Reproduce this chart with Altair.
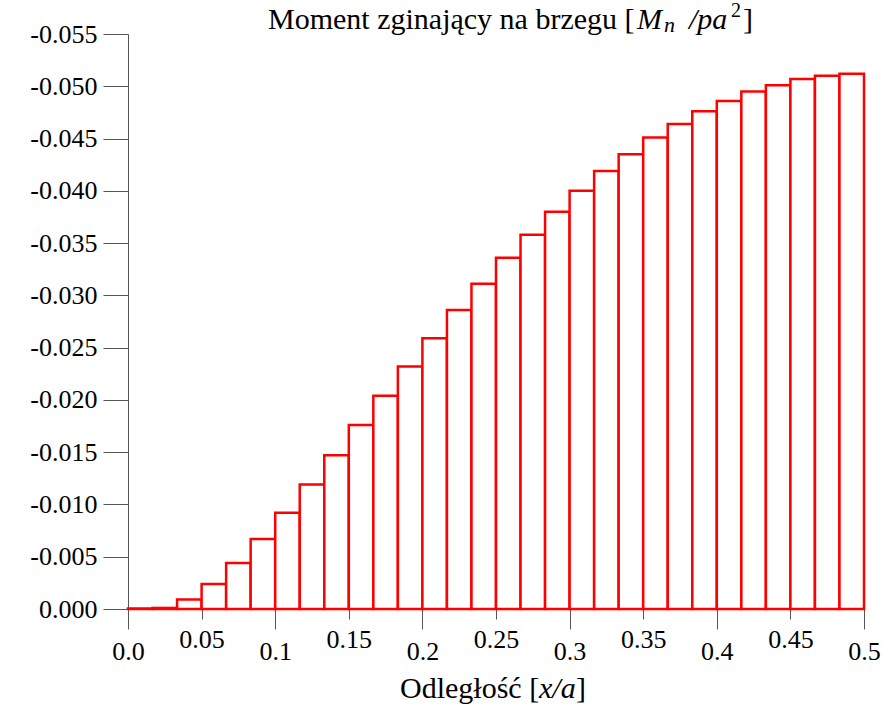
import altair as alt
import pandas as pd

SERIF = "Liberation Serif"

# Bending moment on the edge, one value per strip of width 1/60 (x/a from 0 to 0.5)
moment = [-0.00005, -0.0001, -0.0009, -0.0024, -0.0044, -0.0067, -0.0092, -0.0119,
          -0.0147, -0.0176, -0.0204, -0.0232, -0.0259, -0.0286, -0.0311, -0.0336,
          -0.0358, -0.0380, -0.0400, -0.0419, -0.0435, -0.0451, -0.0464, -0.0476,
          -0.0486, -0.0495, -0.0501, -0.0507, -0.0510, -0.0512]
x_major = [0.0, 0.1, 0.2, 0.3, 0.4, 0.5]
x_minor = [0.05, 0.15, 0.25, 0.35, 0.45]
y_ticks = [0.0, -0.005, -0.010, -0.015, -0.020, -0.025, -0.030, -0.035,
           -0.040, -0.045, -0.050, -0.055]

n = len(moment)
step = 0.5 / n
df = pd.DataFrame({
    "x0": [i * step for i in range(n)],
    "x1": [(i + 1) * step for i in range(n)],
    "m": moment,
    "base": [0.0] * n,
})

x_scale = alt.Scale(domain=[0, 0.5], nice=False, zero=False)
axis_style = dict(grid=False, domainColor="#555555", tickColor="#555555",
                  domainWidth=1, tickWidth=1, labelFont=SERIF, labelColor="black",
                  labelFontSize=26, labelBaseline="middle", labelFlush=False,
                  labelOverlap=False, title=None)

bars = alt.Chart(df).mark_rect(fill="white", stroke="#ff0000", strokeWidth=2.5).encode(
    x=alt.X("x0:Q", scale=x_scale,
            axis=alt.Axis(orient="bottom", values=x_major, tickSize=20, labelPadding=22,
                          labelExpr="format(datum.value, '.1f')", **axis_style)),
    x2="x1:Q",
    y=alt.Y("m:Q", scale=alt.Scale(domain=[-0.055, 0], reverse=True, nice=False, zero=False),
            axis=alt.Axis(orient="left", values=y_ticks, tickSize=25, labelPadding=6,
                          labelAlign="right",
                          labelExpr="(datum.value < -1e-9 ? '-' : '') + format(abs(datum.value), '.3f')",
                          **axis_style)),
    y2="base:Q",
)

minor = alt.Chart(pd.DataFrame({"x": x_minor})).mark_point(opacity=0).encode(
    x=alt.X("x:Q", scale=x_scale,
            axis=alt.Axis(orient="bottom", values=x_minor, tickSize=10, labelPadding=20,
                          labelExpr="format(datum.value, '.2f')", **axis_style)),
)


def piece(text, x, y, size=30, style="normal"):
    return alt.Chart(pd.DataFrame({"t": [text]})).mark_text(
        align="left", baseline="alphabetic", font=SERIF, fontSize=size,
        fontStyle=style, color="black",
    ).encode(x=alt.value(x), y=alt.value(y), text="t:N")


title_parts = [
    piece("Moment zginający na brzegu [", 140, -5),
    piece("M", 509, -5, style="italic"),
    piece("n", 536, -2, size=22, style="italic"),
    piece("/pa", 561, -5, style="italic"),
    piece("2", 603, -17, size=20),
    piece("]", 615, -5),
]
xlabel_parts = [
    piece("Odległość [", 272, 664),
    piece("x/a", 411, 664, style="italic"),
    piece("]", 448, 664),
]

chart = alt.layer(bars, minor, *title_parts, *xlabel_parts).resolve_scale(
    x="independent"
).properties(
    width=736, height=575,
    autosize=alt.AutoSizeParams(type="none"),
    padding={"left": 128, "top": 34, "right": 20, "bottom": 100},
    background="white",
).configure_view(stroke=None)

chart.save("out.html", embed_options={"renderer": "svg", "actions": False})
